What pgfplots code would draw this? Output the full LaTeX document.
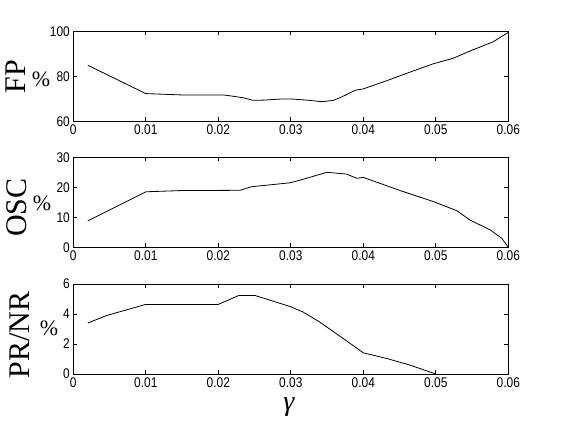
\documentclass[border=0pt]{standalone}
\usepackage{fontspec}
\setmainfont{Liberation Sans}
\newfontfamily\tickfont[FakeStretch=0.85]{Liberation Sans}
\newfontfamily\labfont{Liberation Serif}
\usepackage{pgfplots}
\pgfplotsset{compat=1.18}

\pgfplotsset{panel/.style={
  scale only axis, width=435pt, height=90pt,
  anchor=south west,
  xmin=0, xmax=0.06,
  xtick={0,0.01,0.02,0.03,0.04,0.05,0.06},
  xticklabels={0,0.01,0.02,0.03,0.04,0.05,0.06},
  scaled x ticks=false,
  tick align=inside, major tick length=4pt,
  tick style={black, line width=0.7pt},
  axis line style={line width=0.8pt},
  tick label style={font=\tickfont\fontsize{14}{14}\selectfont},
  /pgf/number format/assume math mode=true,
}}

\begin{document}
\begin{tikzpicture}
\useasboundingbox (0,0) rectangle (561pt,420pt);

% FP
\begin{axis}[panel, at={(73.3pt,298.5pt)}, ymin=60, ymax=100, ytick={60,80,100}]
\addplot[black, line width=0.8pt] coordinates {
(0.002,85) (0.01,72.4) (0.015,71.8) (0.0207,71.8) (0.0221,71.2) (0.0235,70.5)
(0.0248,69.4) (0.0262,69.5) (0.0287,70.0) (0.0301,70.0) (0.0322,69.5) (0.0343,68.8)
(0.0359,69.4) (0.0372,71.2) (0.0389,73.9) (0.040,74.5) (0.0432,78.1) (0.0464,81.9)
(0.0497,85.7) (0.0524,88.1) (0.0547,91.3) (0.0579,95.4) (0.06,99.6)};
\end{axis}

% OSC
\begin{axis}[panel, at={(73.3pt,172.7pt)}, ymin=0, ymax=30, ytick={0,10,20,30}]
\addplot[black, line width=0.8pt] coordinates {
(0.002,8.8) (0.01,18.5) (0.0147,18.9) (0.023,19.0) (0.0246,20.2) (0.0299,21.5)
(0.0313,22.4) (0.035,25.0) (0.0377,24.4) (0.0391,23.0) (0.040,23.3) (0.0451,18.9)
(0.0497,15.2) (0.0529,12.2) (0.0547,9.1) (0.0575,5.8) (0.0591,3.0) (0.06,0)};
\end{axis}

% PR/NR
\begin{axis}[panel, at={(73.3pt,46pt)}, ymin=0, ymax=6, ytick={0,2,4,6}]
\addplot[black, line width=0.8pt] coordinates {
(0.002,3.4) (0.0046,3.9) (0.01,4.64) (0.02,4.64) (0.0228,5.23) (0.0251,5.23)
(0.0299,4.5) (0.0317,4.13) (0.034,3.46) (0.0381,2.07) (0.040,1.41) (0.0432,1.04)
(0.0464,0.6) (0.05,0)};
\end{axis}

\node[rotate=90, font=\labfont\fontsize{30}{30}\selectfont] at (16pt,343pt) {FP};
\node[font=\labfont\fontsize{22}{22}\selectfont] at (41pt,341pt) {\%};
\node[rotate=90, font=\labfont\fontsize{30}{30}\selectfont] at (17pt,212.5pt) {OSC};
\node[font=\labfont\fontsize{22}{22}\selectfont] at (42pt,217pt) {\%};
\node[rotate=90, font=\labfont\fontsize{30}{30}\selectfont] at (20pt,85pt) {PR/NR};
\node[font=\labfont\fontsize{22}{22}\selectfont] at (49pt,92pt) {\%};
\node[font=\labfont\itshape\fontsize{28}{28}\selectfont, inner sep=0pt] at (289pt,13pt) {γ};
\end{tikzpicture}
\end{document}
